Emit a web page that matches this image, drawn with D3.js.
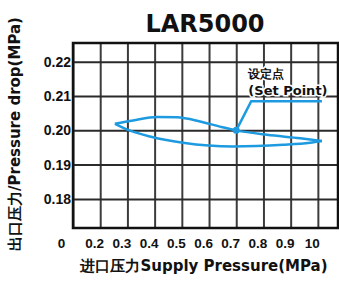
<!DOCTYPE html>
<html>
<head>
<meta charset="utf-8">
<script src="https://cdn.jsdelivr.net/npm/d3@7"></script>
<style>
  body { margin: 0; background: #fff; }
  svg { display: block; font-family: "DejaVu Sans", sans-serif; font-weight: bold; }
</style>
</head>
<body>
<div id="chart"></div>
<script>
// datos (MPa)
const title = 'LAR5000';
const xTicks = [0.1, 0.2, 0.3, 0.4, 0.5, 0.6, 0.7, 0.8, 0.9, 1.0];
const xTickLabels = ['0', '0.2', '0.3', '0.4', '0.5', '0.6', '0.7', '0.8', '0.9', '10'];
const yTicks = [0.18, 0.19, 0.20, 0.21, 0.22];
const yTickLabels = ['0.18', '0.19', '0.20', '0.21', '0.22'];

// rama superior (subida) y rama inferior (bajada) del lazo
const upperX = [0.254, 0.321, 0.409, 0.482, 0.567, 0.640, 0.700, 0.813, 0.935, 1.015];
const upperY = [0.2019, 0.2029, 0.2039, 0.2038, 0.2026, 0.2011, 0.2000, 0.1987, 0.1977, 0.1969];
const lowerX = [0.254, 0.310, 0.383, 0.504, 0.688, 0.872, 0.971, 1.015];
const lowerY = [0.2019, 0.1999, 0.1982, 0.1964, 0.1953, 0.1958, 0.1964, 0.1969];

// punto de ajuste y su llamada
const setPointX = 0.7;
const setPointY = 0.2;
const calloutX = [0.7, 0.755, 1.015];
const calloutY = [0.2, 0.2085, 0.2085];

const svgWidth = 339;
const svgHeight = 283;
const margin = { top: 43, right: 1, bottom: 55, left: 73 };
const width = svgWidth - margin.left - margin.right;
const height = svgHeight - margin.top - margin.bottom;
const blue = '#1e9be0';

const root = d3.select('#chart')
  .append('svg')
  .attr('width', svgWidth)
  .attr('height', svgHeight);

const svg = root.append('g')
  .attr('transform', `translate(${margin.left},${margin.top})`);

const xScale = d3.scaleLinear()
  .domain([0.1, 1.074])
  .range([0, width]);

const yScale = d3.scaleLinear()
  .domain([0.1715, 0.2255])
  .range([height, 0]);

// rejilla vertical + etiquetas X
const xAxis = svg.append('g')
  .attr('transform', `translate(0,${height})`)
  .call(d3.axisBottom(xScale)
    .tickValues(xTicks)
    .tickSize(-height)
    .tickPadding(10)
    .tickFormat((d, i) => xTickLabels[i]));
xAxis.select('.domain').remove();
xAxis.selectAll('line').attr('stroke', '#3c3c3c').attr('stroke-width', 2);
xAxis.selectAll('text')
  .attr('fill', '#111')
  .style('font-size', '13.5px')
  .attr('dx', (d, i) => i === 0 ? -12 : -6);

// rejilla horizontal + etiquetas Y
const yAxis = svg.append('g')
  .call(d3.axisLeft(yScale)
    .tickValues(yTicks)
    .tickSize(-width)
    .tickPadding(2)
    .tickFormat((d, i) => yTickLabels[i]));
yAxis.select('.domain').remove();
yAxis.selectAll('line').attr('stroke', '#2a2a2a').attr('stroke-width', 2);
yAxis.selectAll('text')
  .attr('fill', '#111')
  .style('font-size', '14px');

// marco
svg.append('rect')
  .attr('width', width)
  .attr('height', height)
  .attr('fill', 'none')
  .attr('stroke', '#111')
  .attr('stroke-width', 2.5);

const line = d3.line()
  .x(d => xScale(d[0]))
  .y(d => yScale(d[1]))
  .curve(d3.curveMonotoneX);

svg.append('path')
  .datum(d3.zip(upperX, upperY))
  .attr('d', line)
  .attr('fill', 'none')
  .attr('stroke', blue)
  .attr('stroke-width', 2.5);

svg.append('path')
  .datum(d3.zip(lowerX, lowerY))
  .attr('d', line)
  .attr('fill', 'none')
  .attr('stroke', blue)
  .attr('stroke-width', 2.5);

// llamada del punto de ajuste
svg.append('path')
  .datum(d3.zip(calloutX, calloutY))
  .attr('d', d3.line().x(d => xScale(d[0])).y(d => yScale(d[1])))
  .attr('fill', 'none')
  .attr('stroke', blue)
  .attr('stroke-width', 2.5);

svg.append('circle')
  .attr('cx', xScale(setPointX))
  .attr('cy', yScale(setPointY))
  .attr('r', 3.5)
  .attr('fill', blue);

svg.append('text')
  .attr('x', xScale(0.81))
  .attr('y', yScale(0.2153))
  .attr('text-anchor', 'middle')
  .style('font-size', '12px')
  .attr('fill', '#111')
  .attr('stroke', '#fff')
  .attr('stroke-width', 3)
  .attr('paint-order', 'stroke')
  .text('设定点');

svg.append('text')
  .attr('x', xScale(0.89))
  .attr('y', yScale(0.2104))
  .attr('text-anchor', 'middle')
  .style('font-size', '13px')
  .attr('fill', '#111')
  .attr('stroke', '#fff')
  .attr('stroke-width', 3)
  .attr('paint-order', 'stroke')
  .text('(Set Point)');

// titulo
root.append('text')
  .attr('x', 205)
  .attr('y', 32)
  .attr('text-anchor', 'middle')
  .style('font-size', '24px')
  .attr('fill', '#111')
  .text(title);

// etiqueta eje X
root.append('text')
  .attr('x', 204)
  .attr('y', 271)
  .attr('text-anchor', 'middle')
  .style('font-size', '15px')
  .attr('fill', '#111')
  .text('进口压力Supply Pressure(MPa)');

// etiqueta eje Y
root.append('text')
  .attr('transform', 'rotate(-90)')
  .attr('x', -134)
  .attr('y', 20)
  .attr('text-anchor', 'middle')
  .style('font-size', '15px')
  .attr('fill', '#111')
  .text('出口压力/Pressure drop(MPa)');
</script>
</body>
</html>
